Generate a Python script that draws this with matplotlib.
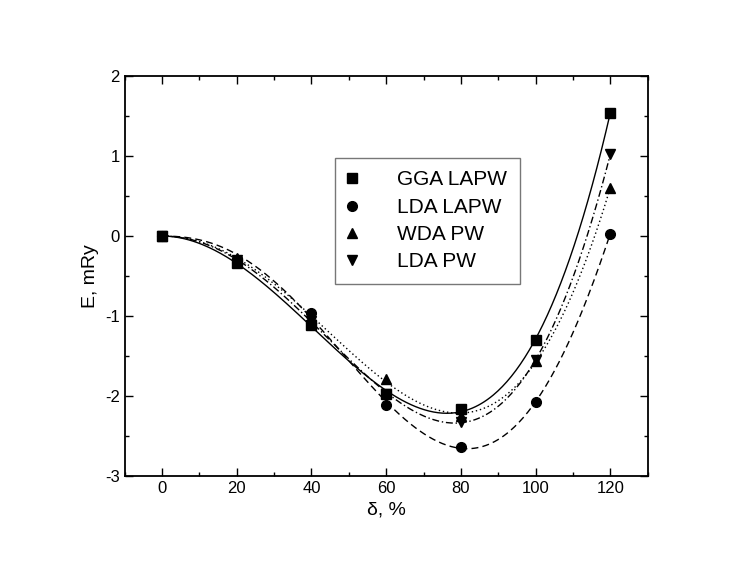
import numpy as np
import matplotlib
matplotlib.use('Agg')
import matplotlib.pyplot as plt
from matplotlib.ticker import MultipleLocator

plt.rcParams['font.family'] = ['Liberation Sans', 'DejaVu Sans']
plt.rcParams['axes.unicode_minus'] = False

delta = [0, 20, 40, 60, 80, 100, 120]
gga_lapw = [0.0, -0.34, -1.11, -1.97, -2.16, -1.30, 1.54]
lda_lapw = [0.0, -0.30, -0.96, -2.11, -2.64, -2.07, 0.03]
wda_pw = [0.0, -0.28, -1.02, -1.78, -2.25, -1.56, 0.60]
lda_pw = [0.0, -0.30, -1.06, -1.97, -2.32, -1.55, 1.02]

series = [
    ("GGA LAPW", gga_lapw, 's', '-'),
    ("LDA LAPW", lda_lapw, 'o', (0, (5, 3))),
    ("WDA PW", wda_pw, '^', (0, (1, 2))),
    ("LDA PW", lda_pw, 'v', (0, (5, 2, 1, 2))),
]


def smooth_fit(x, y, xs):
    # least squares polynomial with E(0)=0 and zero slope at 0
    x = np.asarray(x, float) / 100.0
    y = np.asarray(y, float)
    powers = [2, 3, 4, 5]
    A = np.column_stack([x ** p for p in powers])
    c, *_ = np.linalg.lstsq(A, y, rcond=None)
    t = xs / 100.0
    return sum(ci * t ** p for ci, p in zip(c, powers))


fig = plt.figure(figsize=(7.47, 5.71), dpi=100)
ax = fig.add_axes([0.167, 0.166, 0.700, 0.701])

xs = np.linspace(0, 120, 300)
for name, vals, mk, ls in series:
    ax.plot(xs, smooth_fit(delta, vals, xs), color='black', lw=1.0, linestyle=ls)
    ax.plot(delta, vals, linestyle='none', marker=mk, color='black',
            markersize=7, label=name)

ax.set_xlim(-10, 130)
ax.set_ylim(-3, 2)
ax.xaxis.set_major_locator(MultipleLocator(20))
ax.xaxis.set_minor_locator(MultipleLocator(10))
ax.yaxis.set_major_locator(MultipleLocator(1))
ax.yaxis.set_minor_locator(MultipleLocator(0.5))
ax.tick_params(which='both', direction='in', top=True, right=True, width=1.0)
ax.tick_params(which='major', length=6, labelsize=12)
ax.tick_params(which='minor', length=3)
for sp in ax.spines.values():
    sp.set_linewidth(1.3)

ax.set_xlabel("δ, %", fontsize=14)
ax.set_ylabel("E, mRy", fontsize=14)

leg = ax.legend(loc='upper left', bbox_to_anchor=(0.4015, 0.795), frameon=True,
                fancybox=False, fontsize=15, handletextpad=1.9,
                labelspacing=0.4, borderpad=0.6, handlelength=0.5,
                borderaxespad=0)
leg.get_frame().set_edgecolor('#555555')
leg.get_frame().set_linewidth(1.0)

fig.savefig('out.png', dpi=100)
